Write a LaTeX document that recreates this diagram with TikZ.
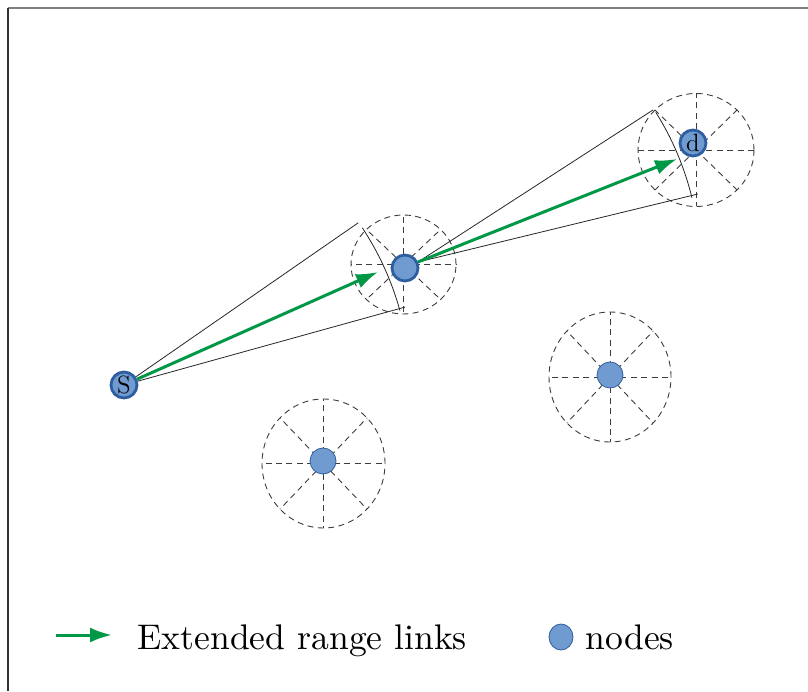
\documentclass[tikz,border=0pt]{standalone}
\usetikzlibrary{arrows.meta,shapes.geometric}
\definecolor{nodefill}{RGB}{112,155,208}
\definecolor{nodeedge}{RGB}{47,94,160}
\definecolor{linkgreen}{RGB}{0,152,70}
\definecolor{spokegray}{RGB}{60,60,60}
\tikzset{
  relay/.style={circle,draw=nodeedge,line width=1.4pt,fill=nodefill,minimum size=13pt,inner sep=0pt,font=\fontsize{12.5}{13}\selectfont},
  plain/.style={circle,draw=nodeedge,line width=0.4pt,fill=nodefill,minimum size=13pt,inner sep=0pt},
  rangeline/.style={dashed,dash pattern=on 3pt off 2.2pt,draw=spokegray,line width=0.45pt},
  conel/.style={draw=black!85,line width=0.4pt},
  link/.style={draw=linkgreen,line width=1.5pt,-{Latex[length=11pt,width=7.5pt]}},
  legtext/.style={font=\fontsize{10}{12}\selectfont,anchor=base west,inner sep=0pt,scale=1.78,transform shape}
}
\newcommand{\rangecircle}[4]{%
  \draw[rangeline] (#1,#2) ellipse [x radius=#3,y radius=#4];
  \foreach \a in {0,45,...,315}{
    \draw[rangeline] (#1,#2) -- ++({#3*cos(\a)},{#4*sin(\a)});
  }}
\begin{document}
\begin{tikzpicture}[x=0.5pt,y=0.5pt]
\useasboundingbox (0,0) rectangle (808,691);
% frame
\draw[gray,line width=0.6pt] (8,683) -- (808,683);
\draw[black!80,line width=0.6pt] (8,683) -- (8,0);
% range circles
\rangecircle{403.5}{426.5}{52.5}{49.5}
\rangecircle{696}{541}{58}{56.5}
\rangecircle{323.5}{227.5}{61.5}{64.5}
\rangecircle{610}{314}{61}{65}
% cones
\coordinate (sc) at (124,306);
\coordinate (ap) at (418,429);
\draw[conel] (sc) -- ++(34.7:285) coordinate (u1);
\draw[conel] (sc) -- ++(15.5:291.5) coordinate (l1);
\draw[conel] (sc) ++(33.4:285.5) arc[start angle=33.4,end angle=15.5,radius=291.5];
\draw[conel] (ap) -- ++(32.9:280) coordinate (u2);
\draw[conel] (ap) -- ++(13.65:288) coordinate (l2);
\draw[conel] (ap) ++(32.2:281) arc[start angle=32.2,end angle=13.65,radius=288];
% nodes
\node[plain] (n3) at (323,230) {};
\node[plain] (n4) at (610,316) {};
\node[relay] (m) at (405,423) {};
\node[relay] (s) at (124,306) {S};
\node[relay] (d) at (693,548) {d};
% links
\coordinate (t1) at (378,419);
\coordinate (t2) at (677,532);
\draw[link] (s) -- (t1);
\draw[link] (ap) -- (t2);
% legend
\coordinate (la) at (56,56);
\coordinate (lb) at (112,56);
\draw[link] (la) -- (lb);
\node[legtext] (lt1) at (137,42) {Extended range links};
\node[plain,ellipse,minimum width=12pt,minimum height=13pt] (ln) at (561,54) {};
\node[legtext] (lt2) at (585,42) {nodes};
\end{tikzpicture}
\end{document}
